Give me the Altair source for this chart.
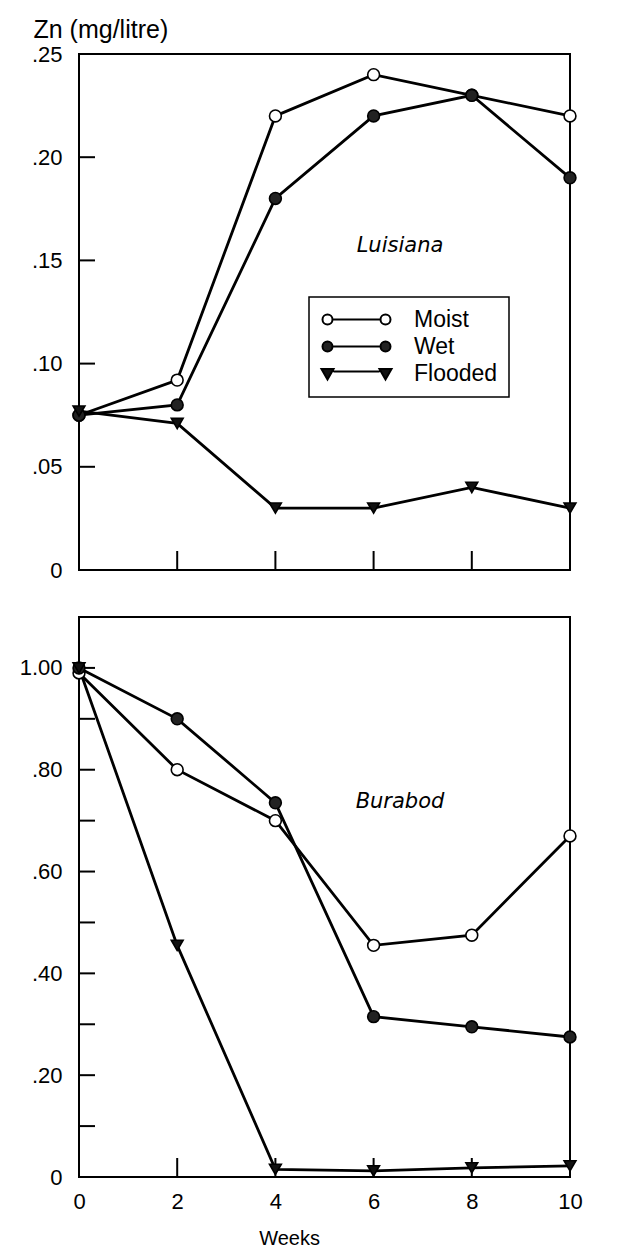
import altair as alt
import pandas as pd

# ---- data ----
weeks = [0, 2, 4, 6, 8, 10]
series_names = ["Moist", "Wet", "Flooded"]

lu_moist = [0.075, 0.092, 0.220, 0.240, 0.230, 0.220]
lu_wet = [0.075, 0.080, 0.180, 0.220, 0.230, 0.190]
lu_flooded = [0.077, 0.071, 0.030, 0.030, 0.040, 0.030]

bu_moist = [0.99, 0.80, 0.70, 0.455, 0.475, 0.67]
bu_wet = [1.00, 0.90, 0.735, 0.315, 0.295, 0.275]
bu_flooded = [1.00, 0.455, 0.015, 0.012, 0.018, 0.022]

top_y_labels = [0, 0.05, 0.10, 0.15, 0.20, 0.25]
top_y_ticks = [0.05, 0.10, 0.15, 0.20]
bot_y_labels = [0, 0.2, 0.4, 0.6, 0.8, 1.0]
bot_y_ticks = [0.1, 0.2, 0.3, 0.4, 0.5, 0.6, 0.7, 0.8, 0.9, 1.0]
x_labels = [0, 2, 4, 6, 8, 10]
x_ticks = [2, 4, 6, 8]

FONT = "Liberation Sans"
W = 491
H_TOP = 516
H_BOT = 560


def long_df(m, w, f):
    rows = []
    for name, vals in zip(series_names, [m, w, f]):
        for wk, v in zip(weeks, vals):
            rows.append({"week": wk, "value": v, "series": name})
    return pd.DataFrame(rows)


lu_df = long_df(lu_moist, lu_wet, lu_flooded)
bu_df = long_df(bu_moist, bu_wet, bu_flooded)

label_expr = ("datum.value == 0 ? '0' : (datum.value >= 1 ? format(datum.value, '.2f') : "
              "replace(format(datum.value, '.2f'), '0.', '.'))")


def panel(df, ydomain, ylabels, yticks, height, show_x, title_text, annot, with_legend):
    xscale = alt.Scale(domain=[0, 10], nice=False, zero=False)
    yscale = alt.Scale(domain=ydomain, nice=False, zero=False)

    if show_x:
        xaxis = alt.Axis(values=x_labels, tickSize=0, domain=False, grid=False,
                         labelFontSize=22, labelFont=FONT, labelColor="black",
                         labelPadding=14, labelFlush=False,
                         title="Weeks", titleFont=FONT, titleX=210, titleAlign="center",
                         titleFontSize=20, titleFontWeight="normal", titleColor="black",
                         titlePadding=16)
    else:
        xaxis = None

    yaxis_kwargs = dict(values=ylabels, tickSize=0, domain=False, grid=False,
                        labelFontSize=22, labelFont=FONT, labelColor="black",
                        labelPadding=17, labelExpr=label_expr)
    if with_legend:
        yaxis = alt.Axis(title="Zn (mg/litre)", titleAngle=0, titleAlign="left",
                         titleBaseline="alphabetic", titleX=-46, titleY=-17,
                         titleFont=FONT, titleFontSize=25, titleFontWeight="normal",
                         titleColor="black", **yaxis_kwargs)
    else:
        yaxis = alt.Axis(title=None, **yaxis_kwargs)

    X = alt.X("week:Q", scale=xscale, axis=xaxis)
    Y = alt.Y("value:Q", scale=yscale, axis=yaxis)

    base = alt.Chart(df)

    yt = alt.Chart(pd.DataFrame({"value": yticks})).mark_rule(
        color="black", strokeWidth=2).encode(
        y=alt.Y("value:Q", scale=yscale, axis=yaxis), x=alt.value(0), x2=alt.value(16))
    xt = alt.Chart(pd.DataFrame({"week": x_ticks})).mark_rule(
        color="black", strokeWidth=2).encode(
        x=alt.X("week:Q", scale=xscale, axis=xaxis), y=alt.value(height), y2=alt.value(height - 19))

    lines = base.mark_line(color="black", strokeWidth=2.8).encode(
        x=X, y=Y, detail="series:N")

    pts = base.mark_point(filled=True, stroke="black", strokeWidth=1.6, opacity=1).encode(
        x=X, y=Y,
        shape=alt.Shape("series:N", scale=alt.Scale(domain=series_names,
                        range=["circle", "circle", "triangle-down"]), legend=None),
        fill=alt.Fill("series:N", scale=alt.Scale(domain=series_names,
                      range=["white", "#222222", "#111111"]), legend=None),
        size=alt.Size("series:N", scale=alt.Scale(domain=series_names,
                      range=[140, 140, 180]), legend=None),
    )

    txt = alt.Chart(pd.DataFrame({"t": [title_text]})).mark_text(
        font="DejaVu Sans", fontSize=21, fontStyle="italic", color="black",
        align="center", baseline="middle").encode(
        text="t:N", x=alt.value(annot[0]), y=alt.value(annot[1]))

    layers = [yt, xt, lines, pts, txt]

    if with_legend:
        s_moist = ("M-6.8,0A1,1,0,1,0,-4.8,0A1,1,0,1,0,-6.8,0Z"
                   "M-4.8,0L4.8,0"
                   "M4.8,0A1,1,0,1,0,6.8,0A1,1,0,1,0,4.8,0Z")
        s_flood = ("M-7,-0.9L-4.6,-0.9L-5.8,1.2Z"
                   "M-4.6,-0.4L4.6,-0.4"
                   "M4.6,-0.9L7,-0.9L5.8,1.2Z")
        leg = base.transform_calculate(lg="datum.series").transform_filter("false").mark_point(
            filled=False).encode(
            x=X, y=Y,
            shape=alt.Shape("lg:N", scale=alt.Scale(domain=series_names,
                            range=[s_moist, s_moist, s_flood]),
                            legend=alt.Legend(title=None, orient="none", legendX=230, legendY=243,
                                              symbolSize=100, symbolStrokeWidth=2,
                                              symbolOpacity=1,
                                              labelFontSize=23, labelFont=FONT, labelColor="black",
                                              padding=11, rowPadding=3, strokeColor="black",
                                              symbolOffset=25, labelOffset=46)),
            fill=alt.Fill("lg:N", scale=alt.Scale(domain=series_names,
                          range=["white", "#222222", "#111111"])),
            stroke=alt.Stroke("lg:N", scale=alt.Scale(domain=series_names,
                              range=["black", "black", "black"])),
        )
        layers.append(leg)

    ch = alt.layer(*layers).properties(width=W, height=height)
    if with_legend:
        ch = ch.resolve_scale(shape="independent", fill="independent", stroke="independent")
    return ch


top = panel(lu_df, [0, 0.25], top_y_labels, top_y_ticks, H_TOP, False, "Luisiana",
            (321, 192), True)
bot = panel(bu_df, [0, 1.1], bot_y_labels, bot_y_ticks, H_BOT, True, "Burabod",
            (321, 185), False)

chart = alt.vconcat(top, bot, spacing=47, bounds="flush").properties(
    padding={"left": 10, "top": 8, "right": 10, "bottom": 5}
).configure_view(stroke="black", strokeWidth=2).configure_legend(strokeWidth=1.5)

chart.save("out.html", embed_options={"renderer": "svg", "actions": False})
